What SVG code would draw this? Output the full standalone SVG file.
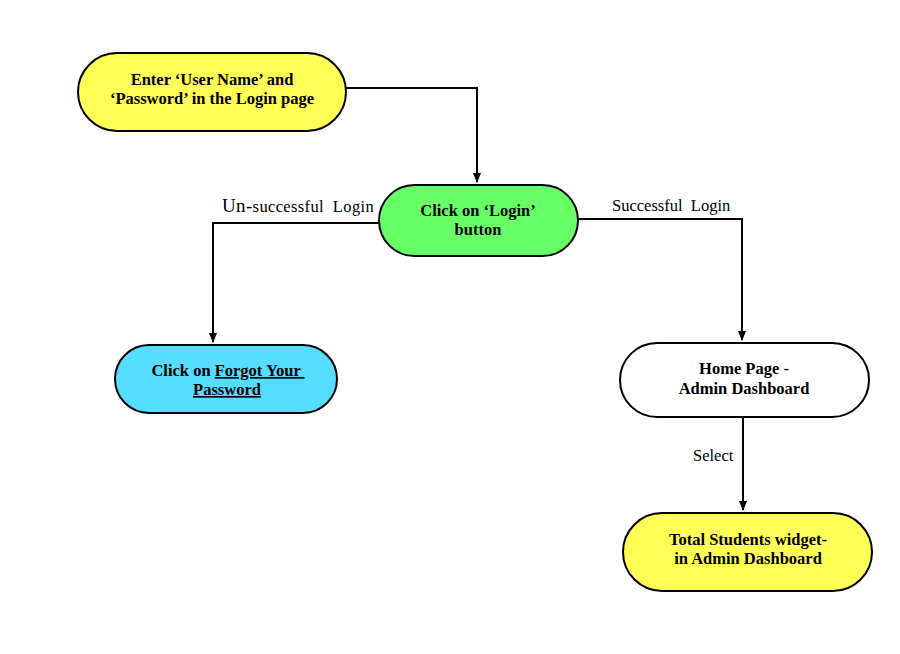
<svg xmlns="http://www.w3.org/2000/svg" width="900" height="654" viewBox="0 0 900 654">
<style>
.n{stroke:#000;stroke-width:2}
.t{font-family:"Liberation Serif",serif;font-weight:bold;font-size:16.5px;text-anchor:middle;fill:#000}
.l{font-family:"Liberation Serif",serif;font-size:16.5px;fill:#000}
.c{fill:none;stroke:#000;stroke-width:2}
</style>
<defs>
<marker id="ah" markerWidth="10" markerHeight="10" refX="9" refY="5" orient="auto" markerUnits="userSpaceOnUse" viewBox="0 0 10 10">
<path d="M0,1 L10,5 L0,9 Z" fill="#000"/>
</marker>
</defs>
<rect width="900" height="654" fill="#fff"/>
<g id="connectors">
<path class="c" d="M346,88 H477 V182" marker-end="url(#ah)"/>
<path class="c" d="M379,223 H213 V342" marker-end="url(#ah)"/>
<path class="c" d="M578,219 H742 V340" marker-end="url(#ah)"/>
<path class="c" d="M743,417 V510" marker-end="url(#ah)"/>
</g>
<g id="labels">
<text class="l" x="222" y="212" xml:space="preserve" letter-spacing="0.35"><tspan font-size="19">Un-</tspan>successful  Login</text>
<text class="l" x="612" y="211" xml:space="preserve">Successful  Login</text>
<text class="l" x="693" y="461">Select</text>
</g>
<g id="n1">
<rect class="n" x="78" y="53" width="268" height="78" rx="39" fill="#FFFF55"/>
<text class="t" x="212" y="85">Enter ‘User Name’ and</text>
<text class="t" x="212" y="104">‘Password’ in the Login page</text>
</g>
<g id="n2">
<rect class="n" x="379" y="185" width="199" height="71" rx="35.5" fill="#66FF66"/>
<text class="t" x="478" y="216">Click on ‘Login’</text>
<text class="t" x="478" y="235">button</text>
</g>
<g id="n3">
<rect class="n" x="115" y="345" width="222" height="68" rx="34" fill="#55DDFF"/>
<text class="t" x="228" y="376" xml:space="preserve">Click on <tspan text-decoration="underline">Forgot Your </tspan></text>
<text class="t" x="227" y="395" text-decoration="underline">Password</text>
</g>
<g id="n4">
<rect class="n" x="620" y="343" width="249" height="74" rx="37" fill="#FFFFFF"/>
<text class="t" x="744" y="374">Home Page -</text>
<text class="t" x="744" y="394">Admin Dashboard</text>
</g>
<g id="n5">
<rect class="n" x="623" y="513" width="249" height="78" rx="39" fill="#FFFF55"/>
<text class="t" x="748" y="545">Total Students widget-</text>
<text class="t" x="748" y="564">in Admin Dashboard</text>
</g>
</svg>
